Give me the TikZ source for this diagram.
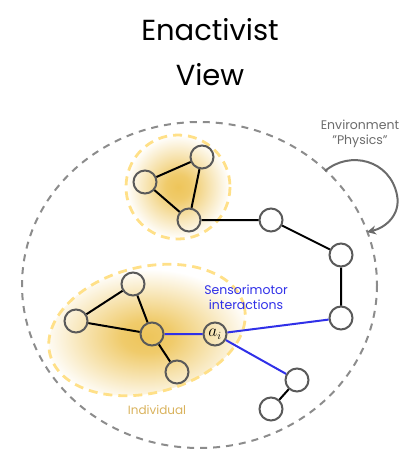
\documentclass[tikz,border=0pt]{standalone}
\usepackage{fontspec}
\setmainfont{Poppins}
\usetikzlibrary{arrows.meta}
\definecolor{netgray}{HTML}{5A5A5A}
\definecolor{envgray}{HTML}{8C8C8C}
\definecolor{smblue}{HTML}{3030E8}
\definecolor{blobgold}{HTML}{EEC55A}
\definecolor{blobedge}{HTML}{FFE088}
\definecolor{indgold}{HTML}{D9B25C}
\pgfdeclareradialshading{blob}{\pgfpoint{0bp}{0bp}}{%
  color(0bp)=(blobgold); color(6bp)=(blobgold!90!white); color(25bp)=(white); color(50bp)=(white)}
\tikzset{
  unit/.style={circle, draw=netgray, line width=2pt, minimum size=23pt, inner sep=0pt},
  link/.style={black, line width=2pt},
  sensor/.style={smblue, line width=2pt},
  blobline/.style={blobedge, line width=2.8pt, dash pattern=on 9pt off 6pt},
}
\begin{document}
\begin{tikzpicture}[x=1pt, y=-1pt]
\useasboundingbox (0,0) rectangle (419,450);

% title
\node (title1) at (210,30) {\fontsize{29}{32}\selectfont Enactivist};
\node (title2) at (210,75) {\fontsize{29}{32}\selectfont View};

% environment boundary
\draw[envgray, line width=2pt, dash pattern=on 7pt off 6pt] (199.5,285) ellipse [x radius=177.5, y radius=163];

% individual regions
\shade[shading=blob] (178,187) circle [radius=52];
\draw[blobline] (178,187) circle [radius=52];
\begin{scope}[shift={(147,330)}, rotate=14]
  \shade[shading=blob] (0,0) ellipse [x radius=100, y radius=63];
  \draw[blobline] (0,0) ellipse [x radius=100, y radius=63];
\end{scope}

% units
\node[unit] (u1) at (145,182) {};
\node[unit] (u2) at (202,157) {};
\node[unit] (u3) at (189,220) {};
\node[unit] (e1) at (271,220) {};
\node[unit] (e2) at (341,255) {};
\node[unit] (e3) at (341,318) {};
\node[unit] (l1) at (133,284) {};
\node[unit] (l2) at (76,321) {};
\node[unit] (l3) at (152,334) {};
\node[unit] (l4) at (177,372) {};
\node[unit] (ai) at (215,334) {\fontsize{16}{18}\selectfont$a_i$};
\node[unit] (e4) at (297,380) {};
\node[unit] (e5) at (271,409) {};

% connections
\draw[link] (u1) -- (u2) (u2) -- (u3) (u1) -- (u3);
\draw[link] (u3) -- (e1) (e1) -- (e2) (e2) -- (e3);
\draw[link] (l1) -- (l2) (l1) -- (l3) (l2) -- (l3) (l3) -- (l4);
\draw[link] (e4) -- (e5);
\draw[sensor] (l3) -- (ai) (ai) -- (e3) (ai) -- (e4);

% labels
\node[smblue, align=center, font=\fontsize{12.5}{15}\selectfont] (smlab) at (246,297) {Sensorimotor\\interactions};
\node[indgold, font=\fontsize{12}{14}\selectfont] (indlab) at (157,410) {Individual};
\node[netgray!90, align=center, font=\fontsize{12.5}{15}\selectfont] (envlab) at (360,134) {Environment\\"Physics"};

% environment feedback loop
\coordinate (loopstart) at (325,171);
\coordinate (loopend) at (367,232);
\draw[netgray!90, line width=2pt, -{Stealth[length=9pt, width=9pt]}]
  (loopstart) .. controls (350,150) and (390,160) .. (397,195)
  .. controls (401,215) and (385,228) .. (loopend);
\end{tikzpicture}
\end{document}
